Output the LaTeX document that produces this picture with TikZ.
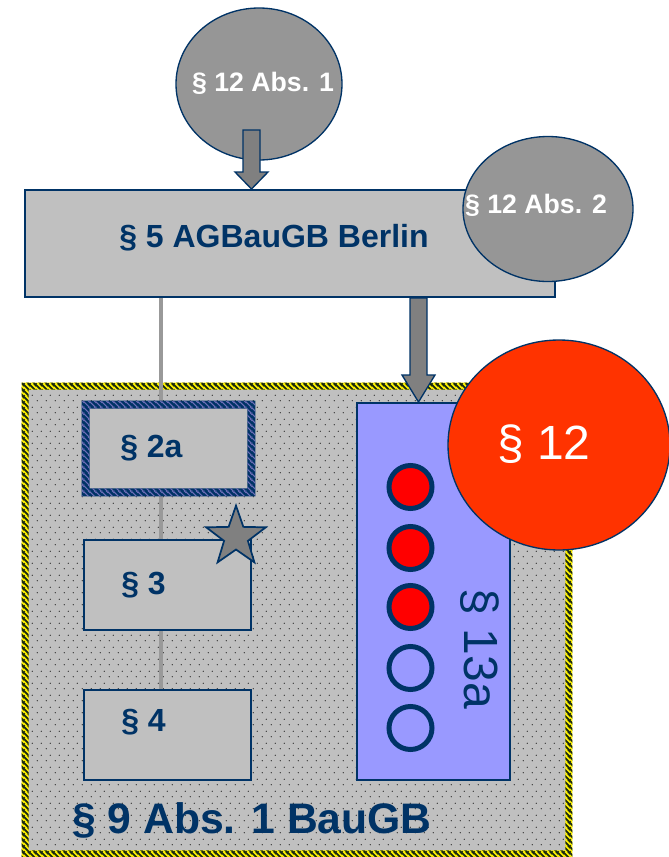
\documentclass[tikz,border=0pt]{standalone}
\usepackage{fontspec}
\setmainfont{Liberation Sans}
\usetikzlibrary{shapes.geometric,patterns,calc}
\definecolor{dblue}{HTML}{003366}
\definecolor{boxgray}{HTML}{C0C0C0}
\definecolor{circgray}{HTML}{969696}
\definecolor{arrgray}{HTML}{808080}
\definecolor{conngray}{HTML}{999999}
\definecolor{lilac}{HTML}{9999FF}
\definecolor{bigred}{HTML}{FF3300}
\definecolor{dotred}{HTML}{FF0000}
\definecolor{hatchdark}{HTML}{1A2A12}
\definecolor{hatchlight}{HTML}{6F6FB8}
\definecolor{speck}{HTML}{202020}
\pgfdeclarepatternformonly{sdots}{\pgfpointorigin}{\pgfpoint{6.75pt}{9pt}}{\pgfpoint{6.75pt}{9pt}}{%
  \pgfpathcircle{\pgfpoint{1pt}{1pt}}{0.55pt}%
  \pgfpathcircle{\pgfpoint{4.375pt}{5.5pt}}{0.55pt}%
  \pgfusepath{fill}}
\pgfdeclarepatternformonly{thickstripes}{\pgfpointorigin}{\pgfpoint{4.5pt}{4.5pt}}{\pgfpoint{4.5pt}{4.5pt}}{%
  \pgfsetlinewidth{1.6pt}%
  \pgfpathmoveto{\pgfpoint{-1pt}{5.5pt}}\pgfpathlineto{\pgfpoint{5.5pt}{-1pt}}%
  \pgfpathmoveto{\pgfpoint{-5.5pt}{5.5pt}}\pgfpathlineto{\pgfpoint{1pt}{-1pt}}%
  \pgfpathmoveto{\pgfpoint{3.5pt}{5.5pt}}\pgfpathlineto{\pgfpoint{10pt}{-1pt}}%
  \pgfusepath{stroke}}
\pgfdeclarepatternformonly{thinstripes}{\pgfpointorigin}{\pgfpoint{4.5pt}{4.5pt}}{\pgfpoint{4.5pt}{4.5pt}}{%
  \pgfsetlinewidth{0.9pt}%
  \pgfpathmoveto{\pgfpoint{-1pt}{5.5pt}}\pgfpathlineto{\pgfpoint{5.5pt}{-1pt}}%
  \pgfpathmoveto{\pgfpoint{-5.5pt}{5.5pt}}\pgfpathlineto{\pgfpoint{1pt}{-1pt}}%
  \pgfpathmoveto{\pgfpoint{3.5pt}{5.5pt}}\pgfpathlineto{\pgfpoint{10pt}{-1pt}}%
  \pgfusepath{stroke}}
\begin{document}
\begin{tikzpicture}[x=0.75pt,y=-0.75pt,
  graybox/.style={rectangle, fill=boxgray, draw=dblue, line width=1.5pt, inner sep=0pt},
  gcirc/.style={ellipse, fill=circgray, draw=dblue, line width=1pt, inner sep=0pt},
  wlbl/.style={text=white, font=\bfseries\fontsize{20}{24}\selectfont, inner sep=0pt},
  blbl/.style={text=dblue, font=\bfseries\fontsize{24}{28}\selectfont, inner sep=0pt},
  conn/.style={draw=conngray, line width=3pt},
  fatarrow/.style={fill=arrgray, draw=dblue, line width=1pt, line join=miter},
  ring/.style={circle, draw=dblue, line width=3.75pt, minimum size=32.25pt, inner sep=0pt},
]
\useasboundingbox (0,0) rectangle (668,857);
\fill[white] (0,0) rectangle (668,857);

% region of § 9 Abs. 1 BauGB
\node[rectangle, fill=boxgray, minimum width=412.5pt, minimum height=355.5pt, inner sep=0pt] (region) at (297,620) {};
\fill[pattern=sdots, pattern color=speck] (27,388) rectangle (567,852);
\fill[yellow, even odd rule] (region.north west) rectangle (region.south east)
  ([shift={(5.25pt,-5.25pt)}]region.north west) rectangle ([shift={(-5.25pt,5.25pt)}]region.south east);
\fill[pattern=thickstripes, pattern color=hatchdark, even odd rule] (region.north west) rectangle (region.south east)
  ([shift={(5.25pt,-5.25pt)}]region.north west) rectangle ([shift={(-5.25pt,5.25pt)}]region.south east);
\node[text=dblue, font=\bfseries\fontsize{32}{38}\selectfont, inner sep=0pt] (t9) at (252,820) {§ 9 Abs. 1 BauGB};

% top circle and main box
\node[gcirc, minimum width=124.5pt, minimum height=114pt] (c1) at (259,84) {};
\node[wlbl] (t1) at (263,83) {§ 12 Abs. 1};
\node[graybox, minimum width=397.5pt, minimum height=80.25pt] (main) at (290,243.5) {};
\node[blbl] (tmain) at (274,238) {§ 5 AGBauGB Berlin};
\coordinate (a1) at (251.5,130);
\draw[fatarrow] ($(a1)+(-8.5,0)$) -- ($(a1)+(8.5,0)$) -- ($(a1 |- main.north)+(8.5,-17)$) -- ($(a1 |- main.north)+(16.5,-17)$)
  -- (a1 |- main.north) -- ($(a1 |- main.north)+(-16.5,-17)$) -- ($(a1 |- main.north)+(-8.5,-17)$) -- cycle;
\node[gcirc, minimum width=127.5pt, minimum height=108.75pt] (c2) at (548,209) {};
\node[wlbl] (t2) at (536,205) {§ 12 Abs. 2};

% left column
\coordinate (lx) at (161,0);
\node[rectangle, fill=boxgray, minimum width=129.75pt, minimum height=71.25pt, inner sep=0pt] (s2a) at (168.5,448.5) {};
\node[graybox, minimum width=125.25pt, minimum height=67.5pt] (s3) at (167.5,585) {};
\node[graybox, minimum width=125.25pt, minimum height=67.5pt] (s4) at (167.5,735) {};
\draw[conn] (main.south -| lx) -- (s2a.north -| lx);
\draw[conn] (s2a.south -| lx) -- (s3.north -| lx);
\draw[conn] (s3.south -| lx) -- (s4.north -| lx);
\fill[dblue, even odd rule] (s2a.north west) rectangle (s2a.south east)
  ([shift={(6pt,-6pt)}]s2a.north west) rectangle ([shift={(-6pt,6pt)}]s2a.south east);
\fill[pattern=thinstripes, pattern color=hatchlight, even odd rule] (s2a.north west) rectangle (s2a.south east)
  ([shift={(6pt,-6pt)}]s2a.north west) rectangle ([shift={(-6pt,6pt)}]s2a.south east);
\node[blbl, anchor=west] (t2a) at (120,448) {§ 2a};
\node[blbl, anchor=west] (t3) at (121,585) {§ 3};
\node[blbl, anchor=west] (t4) at (121,722) {§ 4};
\node[star, star points=5, star point ratio=2.5, minimum size=47pt, inner sep=0pt, fill=arrgray, draw=dblue, line width=1.3pt] (star) at (236,537) {};

% right column
\node[rectangle, fill=lilac, draw=dblue, line width=1.5pt, minimum width=114.75pt, minimum height=282.75pt, inner sep=0pt] (s13a) at (433.5,591.5) {};
\coordinate (a2) at (418.5,0);
\draw[fatarrow] ($(a2 |- main.south)+(-8.5,0)$) -- ($(a2 |- main.south)+(8.5,0)$) -- ($(a2 |- s13a.north)+(8.5,-27)$) -- ($(a2 |- s13a.north)+(16.5,-27)$)
  -- (a2 |- s13a.north) -- ($(a2 |- s13a.north)+(-16.5,-27)$) -- ($(a2 |- s13a.north)+(-8.5,-27)$) -- cycle;
\node[ring, fill=dotred] (d1) at (410.5,487) {};
\node[ring, fill=dotred] (d2) at (410.5,548) {};
\node[ring, fill=dotred] (d3) at (410.5,607) {};
\node[ring] (d4) at (410.5,668) {};
\node[ring] (d5) at (410.5,728) {};
\node[text=dblue, font=\fontsize{36}{42}\selectfont, inner sep=0pt, rotate=-90] (t13a) at (480,649) {§ 13a};

\node[ellipse, fill=bigred, draw=dblue, line width=1pt, minimum width=166.5pt, minimum height=157.5pt, inner sep=0pt] (c3) at (559,445) {};
\node[text=white, font=\fontsize{36}{42}\selectfont, inner sep=0pt] (t12) at (544,444) {§ 12};
\end{tikzpicture}
\end{document}
